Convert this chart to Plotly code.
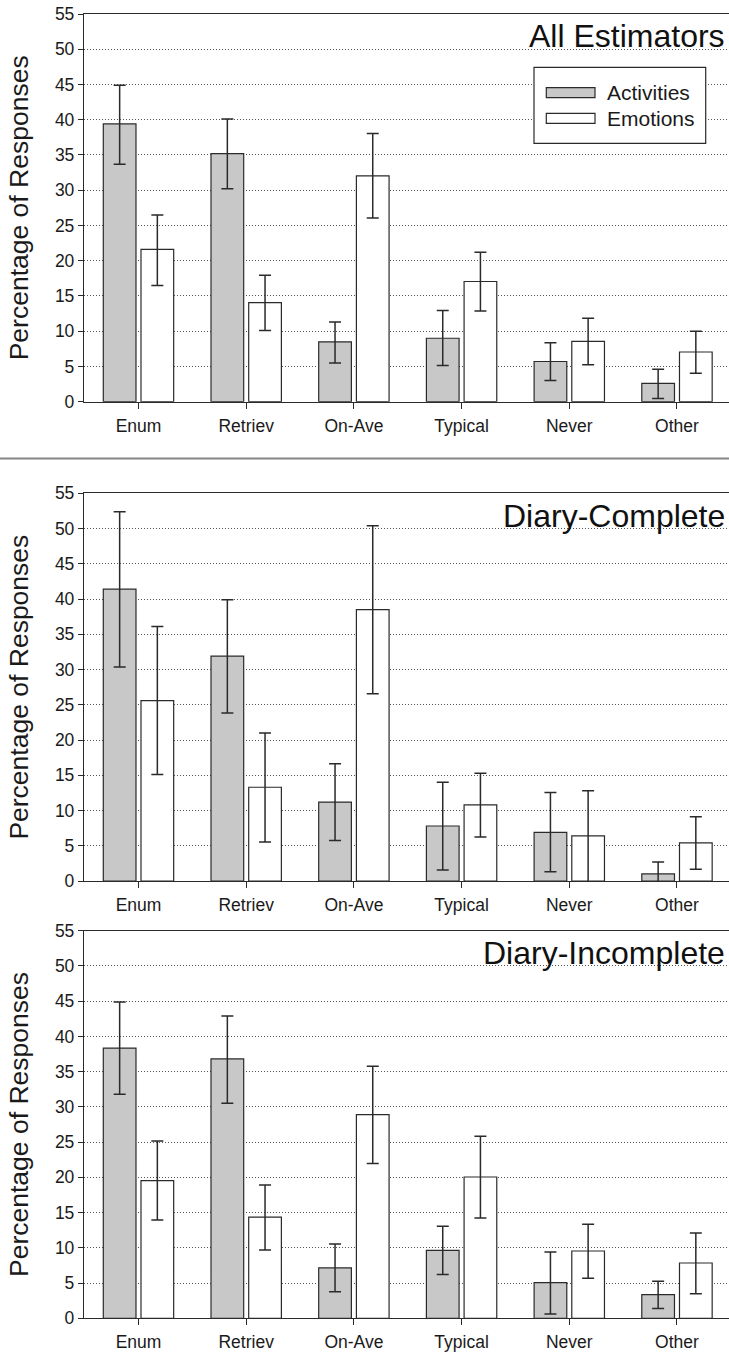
import plotly.graph_objects as go

categories = ["Enum", "Retriev", "On-Ave", "Typical", "Never", "Other"]
series_names = ["Activities", "Emotions"]
panel_titles = ["All Estimators", "Diary-Complete", "Diary-Incomplete"]
y_ticks = [0, 5, 10, 15, 20, 25, 30, 35, 40, 45, 50, 55]

# Panel 1: All Estimators
all_act = [39.4, 35.2, 8.5, 9.0, 5.7, 2.6]
all_act_upper = [44.9, 40.1, 11.3, 12.95, 8.35, 4.6]
all_act_lower = [33.7, 30.2, 5.5, 5.15, 3.0, 0.45]
all_emo = [21.6, 14.05, 32.05, 17.05, 8.55, 7.05]
all_emo_upper = [26.5, 17.95, 38.05, 21.2, 11.85, 10.0]
all_emo_lower = [16.5, 10.1, 26.05, 12.85, 5.25, 4.05]

# Panel 2: Diary-Complete
dc_act = [41.4, 31.9, 11.2, 7.8, 6.9, 1.0]
dc_act_upper = [52.4, 39.9, 16.65, 14.0, 12.55, 2.7]
dc_act_lower = [30.35, 23.85, 5.75, 1.55, 1.3, -0.7]
dc_emo = [25.6, 13.3, 38.5, 10.8, 6.4, 5.4]
dc_emo_upper = [36.1, 21.0, 50.4, 15.3, 12.8, 9.1]
dc_emo_lower = [15.1, 5.55, 26.55, 6.25, -0.1, 1.65]

# Panel 3: Diary-Incomplete
di_act = [38.35, 36.8, 7.15, 9.65, 5.05, 3.35]
di_act_upper = [44.9, 42.9, 10.55, 13.05, 9.4, 5.25]
di_act_lower = [31.8, 30.5, 3.75, 6.2, 0.6, 1.4]
di_emo = [19.55, 14.35, 28.9, 20.05, 9.55, 7.85]
di_emo_upper = [25.15, 18.9, 35.75, 25.85, 13.35, 12.1]
di_emo_lower = [13.95, 9.7, 21.95, 14.25, 5.7, 3.5]

panels = [
    ((all_act, all_act_upper, all_act_lower), (all_emo, all_emo_upper, all_emo_lower)),
    ((dc_act, dc_act_upper, dc_act_lower), (dc_emo, dc_emo_upper, dc_emo_lower)),
    ((di_act, di_act_upper, di_act_lower), (di_emo, di_emo_upper, di_emo_lower)),
]

# ---------------- layout constants (page pixels) ----------------
W, H = 729, 1354
ML, MR = 84, 0
PW = W - ML - MR
panel_px = [(14.0, 401.7), (493.3, 881.0), (930.7, 1318.3)]   # page y of top/bottom
title_right_px = 727

FILL = ["#c8c8c8", "#ffffff"]
EDGE = "#2a2a2a"
TXT = "#1a1a1a"
FONT = "Liberation Sans, Arial, Helvetica, sans-serif"


def px_x(p):
    return (p - ML) / PW


def px_y(p):
    return 1 - p / H


fig = go.Figure()

for i, (act, emo) in enumerate(panels):
    xa = "x" if i == 0 else f"x{i+1}"
    ya = "y" if i == 0 else f"y{i+1}"
    for s, (vals, up, lo) in enumerate((act, emo)):
        fig.add_trace(go.Bar(
            x=categories, y=vals, name=series_names[s],
            xaxis=xa, yaxis=ya, showlegend=False,
            offsetgroup=str(s),
            marker=dict(color=FILL[s], line=dict(color=EDGE, width=1.2)),
            error_y=dict(type="data", symmetric=False,
                         array=[u - v for u, v in zip(up, vals)],
                         arrayminus=[v - l for v, l in zip(vals, lo)],
                         color=EDGE, thickness=1.5, width=6),
            cliponaxis=True,
        ))

layout = dict(
    width=W, height=H,
    margin=dict(l=ML, r=MR, t=0, b=0, pad=0, autoexpand=False),
    paper_bgcolor="white", plot_bgcolor="white",
    barmode="group", bargap=0.3, bargroupgap=0.133,
    font=dict(family=FONT, color=TXT),
    showlegend=False,
)

for i, (top, bot) in enumerate(panel_px):
    xk = "xaxis" if i == 0 else f"xaxis{i+1}"
    yk = "yaxis" if i == 0 else f"yaxis{i+1}"
    ya = "y" if i == 0 else f"y{i+1}"
    xa = "x" if i == 0 else f"x{i+1}"
    layout[xk] = dict(
        domain=[0, 1], anchor=ya, type="category", automargin=False,
        categoryorder="array", categoryarray=categories,
        range=[-0.506, 5.483],
        showline=True, linecolor=EDGE, linewidth=1.3, mirror=True,
        ticks="outside", ticklen=6, tickwidth=1.2, tickcolor=EDGE,
        showgrid=False, zeroline=False,
        tickfont=dict(size=17.5, color=TXT, family=FONT),
        ticklabelstandoff=2,
    )
    layout[yk] = dict(
        domain=[px_y(bot), px_y(top)], anchor=xa, automargin=False,
        range=[0, 55], tickvals=y_ticks,
        showline=True, linecolor=EDGE, linewidth=1.3,
        ticks="outside", ticklen=5, tickwidth=1.2, tickcolor=EDGE,
        showgrid=True, gridcolor="#555555", gridwidth=1, griddash="1px,2px",
        zeroline=False,
        tickfont=dict(size=17.5, color=TXT, family=FONT),
        title=dict(text="Percentage of Responses", standoff=18,
                   font=dict(size=26.5, color=TXT, family=FONT)),
    )

fig.update_layout(**layout)

# panel titles
for i, (top, bot) in enumerate(panel_px):
    fig.add_annotation(
        text=panel_titles[i], xref="paper", yref="paper",
        x=px_x(title_right_px), y=px_y(top + 22.3),
        xanchor="right", yanchor="middle", showarrow=False,
        font=dict(size=32, color="#111111", family=FONT),
    )

# separator between first and second panel
fig.add_shape(type="line", xref="paper", yref="paper",
              x0=px_x(0), x1=px_x(W), y0=px_y(458.5), y1=px_y(458.5),
              line=dict(color="#858585", width=2))

# legend (drawn as a box with swatches)
fig.add_shape(type="rect", xref="paper", yref="paper",
              x0=px_x(534), x1=px_x(705.7), y0=px_y(143.3), y1=px_y(67.3),
              line=dict(color=EDGE, width=1.2), fillcolor="white", layer="above")
swatch_y = [(87.7, 97.7), (113.3, 123.3)]
text_y = [92.5, 118.8]
for s in range(2):
    fig.add_shape(type="rect", xref="paper", yref="paper",
                  x0=px_x(546.3), x1=px_x(595), y0=px_y(swatch_y[s][1]), y1=px_y(swatch_y[s][0]),
                  line=dict(color=EDGE, width=1.2), fillcolor=FILL[s], layer="above")
    fig.add_annotation(
        text=series_names[s], xref="paper", yref="paper",
        x=px_x(604.5), y=px_y(text_y[s]), xanchor="left", yanchor="middle",
        showarrow=False, font=dict(size=21, color=TXT, family=FONT),
    )

# the page's default 8px body margin would push the figure off its place
fig.write_html("out.html", config={"displayModeBar": False},
               post_script="document.body.style.margin='0';")
